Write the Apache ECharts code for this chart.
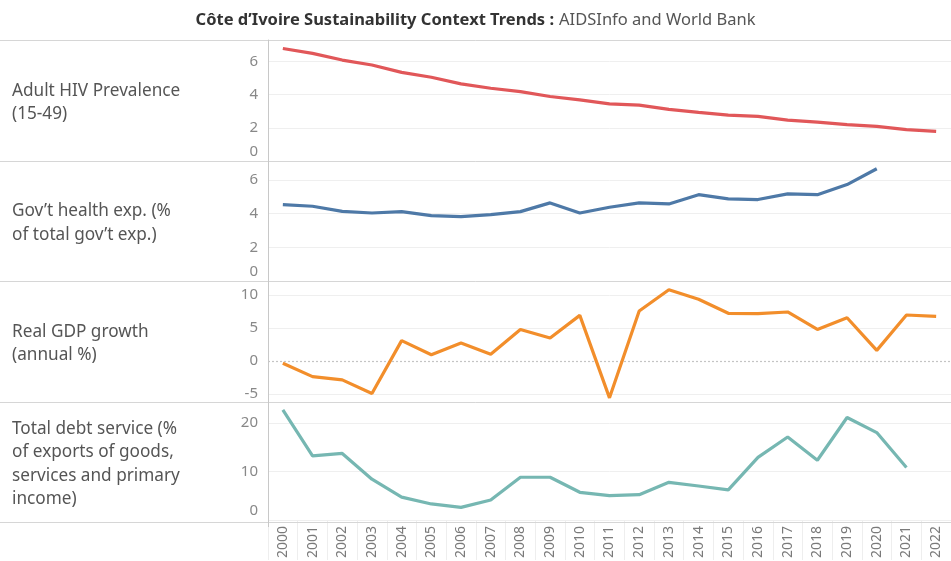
<!DOCTYPE html>
<html>
<head>
<meta charset="utf-8">
<script src="https://cdn.jsdelivr.net/npm/echarts@6/dist/echarts.min.js"></script>
<style>html,body{margin:0;padding:0;background:#fff}#c{width:951px;height:561px}</style>
</head>
<body>
<div id="c"></div>
<script>
const years = ['2000','2001','2002','2003','2004','2005','2006','2007','2008','2009','2010','2011','2012','2013','2014','2015','2016','2017','2018','2019','2020','2021','2022'];
const hivPrevalence = [6.79,6.49,6.09,5.79,5.35,5.05,4.65,4.39,4.19,3.89,3.69,3.45,3.37,3.11,2.93,2.77,2.69,2.47,2.35,2.19,2.09,1.89,1.79];
const govHealthExp = [4.54,4.44,4.14,4.04,4.12,3.88,3.82,3.94,4.12,4.64,4.04,4.38,4.64,4.58,5.13,4.88,4.84,5.18,5.13,5.73,6.67,null,null];
const gdpGrowth = [-0.37,-2.4,-2.9,-4.96,3.06,0.92,2.7,1.0,4.75,3.46,6.89,-5.62,7.55,10.77,9.34,7.2,7.14,7.4,4.75,6.52,1.58,6.94,6.74];
const debtService = [22.7,13.2,13.7,8.4,4.7,3.3,2.6,4.1,8.8,8.8,5.7,5.0,5.2,7.75,7.0,6.2,12.9,17.1,12.3,21.1,18.0,10.8,null];
const rowLabels = [
  'Adult HIV Prevalence\n(15-49)',
  'Gov\u2019t health exp. (%\nof total gov\u2019t exp.)',
  'Real GDP growth\n(annual %)',
  'Total debt service (%\nof exports of goods,\nservices and primary\nincome)'
];
const seriesData = [hivPrevalence, govHealthExp, gdpGrowth, debtService];
const colors = ['#e15759', '#4e79a7', '#f28e2b', '#76b7b2'];
const axisMin = [0, 0, -6.25, 0];
const axisMax = [7.3, 7.13, 12.1, 24.3];
const tickStep = [2, 2, 1.25, 10];   // internal tick step (min must be a multiple)
const labelStep = [2, 2, 5, 10];     // labelled / gridded values
const gdpGridValues = [-5, 5, 10];

const FONT = '"Noto Sans", sans-serif';
const bounds = [40, 161, 281, 402, 522];
const LEFT = 268;

const chart = echarts.init(document.getElementById('c'));
const grids = [], xAxes = [], yAxes = [], series = [], graphics = [];
for (let i = 0; i < 4; i++) {
  grids.push({left: LEFT, right: 0, top: bounds[i], height: bounds[i+1] - bounds[i]});
  const last = i === 3;
  xAxes.push({
    type: 'category', gridIndex: i, data: years, boundaryGap: true,
    axisLine: {show: false},
    axisTick: {show: last, alignWithLabel: false, interval: 0, length: 40, lineStyle: {color: '#eeeeee'}},
    axisLabel: {show: last, rotate: 90, interval: 0, margin: 6, color: '#7a7a7a', fontSize: 14, fontFamily: FONT},
    splitLine: {show: false}
  });
  const step = labelStep[i];
  const minIs0 = axisMin[i] === 0;
  yAxes.push({
    type: 'value', gridIndex: i, min: axisMin[i], max: axisMax[i], interval: tickStep[i],
    axisLine: {show: true, lineStyle: {color: '#c8c8c8'}},
    axisTick: {show: false},
    axisLabel: {
      margin: 10, color: '#888', fontSize: 15, fontFamily: FONT,
      formatter: function (v) {
        const r = Math.abs(v / step - Math.round(v / step));
        if (r > 1e-6) return '';
        if (v === 0 && minIs0) return '{z|0}';
        return String(Math.round(v));
      },
      rich: {z: {padding: [0, 0, 18, 0], color: '#888', fontSize: 15, fontFamily: FONT}}
    },
    splitLine: {show: i !== 2, lineStyle: {color: '#efefef', width: 1}}
  });
  const s = {
    type: 'line', xAxisIndex: i, yAxisIndex: i, data: seriesData[i],
    showSymbol: false, symbol: 'none', connectNulls: false,
    lineStyle: {color: colors[i], width: 3.2}, itemStyle: {color: colors[i]},
    silent: true, z: 5
  };
  if (i === 2) {
    s.markLine = {
      silent: true, symbol: 'none', label: {show: false}, animation: false,
      data: gdpGridValues.map(v => ({yAxis: v, lineStyle: {color: '#efefef', type: 'solid', width: 1}}))
        .concat([{yAxis: 0, lineStyle: {color: '#c4c4c4', type: [2, 2], width: 1.2}}])
    };
  }
  series.push(s);
  const nLines = rowLabels[i].split('\n').length;
  graphics.push({
    type: 'text', left: 12, top: (bounds[i] + bounds[i+1]) / 2 - nLines * 23.5 / 2 + 2,
    style: {text: rowLabels[i], fill: '#555', font: '17.2px ' + FONT, lineHeight: 23.5}
  });
}
for (let k = 0; k < bounds.length; k++) {
  graphics.push({type: 'line', z: 100, shape: {x1: 0, y1: bounds[k] + 0.5, x2: 951, y2: bounds[k] + 0.5},
    style: {stroke: '#d6d6d6', lineWidth: 1}});
}
graphics.push({type: 'line', z: 100, shape: {x1: LEFT + 0.5, y1: bounds[0], x2: LEFT + 0.5, y2: bounds[4] + 5},
  style: {stroke: '#c8c8c8', lineWidth: 1}});

chart.setOption({
  animation: false,
  title: {
    text: '{b|C\u00f4te d\u2019Ivoire Sustainability Context Trends :} {n|AIDSInfo and World Bank}',
    left: 'center', top: 6,
    textStyle: {
      rich: {
        b: {fontWeight: 'bold', fontSize: 16.5, color: '#333', fontFamily: FONT},
        n: {fontWeight: 'normal', fontSize: 16.5, color: '#555', fontFamily: FONT}
      }
    }
  },
  grid: grids, xAxis: xAxes, yAxis: yAxes, series: series, graphic: graphics
});
</script>
</body>
</html>
